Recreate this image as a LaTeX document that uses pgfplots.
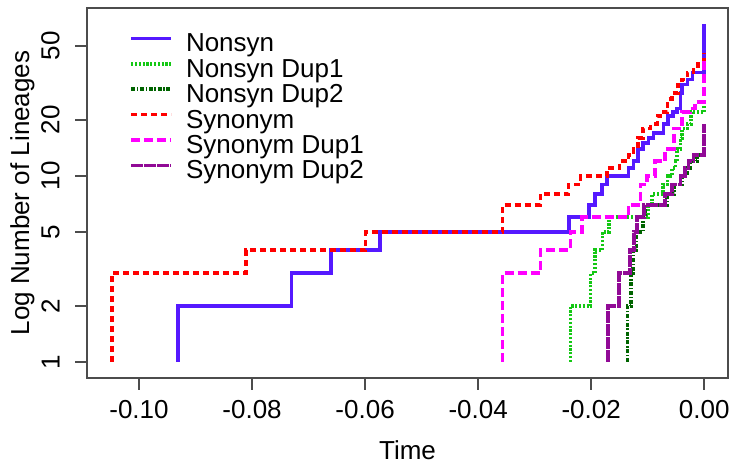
\documentclass[border=0pt]{standalone}
\usepackage{fontspec}
\setmainfont{Liberation Sans}
\usepackage{pgfplots}
\pgfplotsset{compat=1.18}
\definecolor{nsblue}{RGB}{85,25,255}
\definecolor{nsgreen}{RGB}{20,200,20}
\definecolor{nsdkgreen}{RGB}{0,100,0}
\definecolor{synred}{RGB}{255,0,0}
\definecolor{synmag}{RGB}{255,0,255}
\definecolor{synpurple}{RGB}{145,10,150}
\newcommand\chartfont{\fontsize{13bp}{15.6bp}\selectfont}

\begin{document}
\begin{tikzpicture}
\begin{axis}[
  scale only axis,
  width=320.5bp, height=185bp,
  xmin=-0.1092, xmax=0.0042,
  ymode=log, ymin=0.82, ymax=80,
  xtick={-0.10,-0.08,-0.06,-0.04,-0.02,0},
  xticklabels={-0.10,-0.08,-0.06,-0.04,-0.02,0.00},
  ytick={1,2,5,10,20,50},
  yticklabels={1,2,5,10,20,50},
  yminorticks=false,
  tick pos=left,
  tick align=outside,
  major tick length=6bp,
  tick style={black!70, line width=0.8bp},
  axis line style={black!70, line width=0.8bp},
  ticklabel style={font=\chartfont},
  xticklabel style={anchor=north, inner sep=0pt},
  xticklabel shift=5bp,
  yticklabel style={rotate=90, anchor=south, inner sep=0pt},
  yticklabel shift=7.5bp,
  xlabel={Time},
  ylabel={Log Number of Lineages},
  label style={font=\chartfont},
  xlabel style={at={([yshift=-31bp]axis description cs:0.5,0)}, anchor=north, inner sep=0pt},
  ylabel style={at={([xshift=-26bp]axis description cs:0,0.5)}, anchor=south, inner sep=0pt},
  legend style={draw=none, fill=none, at={(0,1)}, anchor=north west,
    xshift=21bp, yshift=-12.25bp, font=\chartfont, row sep=0pt, column sep=6.5bp,
    inner sep=0pt, nodes={inner sep=0pt, text height=9.5bp, text depth=3.2bp}},
  legend cell align=left,
  legend image code/.code={\draw[#1] (0bp,3.6bp) -- (20bp,3.6bp);},
  every axis plot/.append style={line width=1.8bp, line cap=butt},
]
% Nonsyn
\addplot[const plot, nsblue] coordinates {
  (-0.0931,1) (-0.0931,2) (-0.0730,3) (-0.0660,4) (-0.0574,5) (-0.0239,6)
  (-0.0204,7) (-0.0193,8) (-0.0181,9) (-0.0172,10) (-0.0134,11) (-0.0125,12)
  (-0.0117,14) (-0.0108,15) (-0.0099,16) (-0.0090,17) (-0.0072,19) (-0.0064,21)
  (-0.0055,22) (-0.0048,23) (-0.0042,28) (-0.0039,31) (-0.0030,33) (-0.0021,36)
  (0,36) (0,66)};
\addlegendentry{Nonsyn}
% Nonsyn Dup1
\addplot[const plot, nsgreen, dash pattern=on 1.1bp off 0.8bp] coordinates {
  (-0.0237,1) (-0.0237,2) (-0.0201,3) (-0.0193,4) (-0.0180,5) (-0.0169,6)
  (-0.0100,7) (-0.0092,8) (-0.0073,9) (-0.0065,10) (-0.0057,11) (-0.0051,12)
  (-0.0048,14) (-0.0042,16) (-0.0039,18) (-0.0030,19) (-0.0024,22) (0,22) (0,24)};
\addlegendentry{Nonsyn Dup1}
% Nonsyn Dup2
\addplot[const plot, nsdkgreen, dash pattern=on 2bp off 0.8bp on 0.8bp off 0.8bp] coordinates {
  (-0.0136,1) (-0.0136,2) (-0.0130,3) (-0.0126,4) (-0.0120,5) (-0.0108,6)
  (-0.0104,7) (-0.0066,8) (-0.0053,9) (-0.0039,10) (-0.0031,11) (-0.0025,12)
  (-0.0013,13) (0,13)};
\addlegendentry{Nonsyn Dup2}
% Synonym
\addplot[const plot, synred, dash pattern=on 3bp off 2bp] coordinates {
  (-0.1048,1) (-0.1048,3) (-0.0811,4) (-0.0599,5) (-0.0357,7) (-0.0290,8)
  (-0.0240,9) (-0.0219,10) (-0.0172,11) (-0.0150,12) (-0.0134,13) (-0.0125,14)
  (-0.0117,16) (-0.0108,18) (-0.0095,19) (-0.0083,21) (-0.0072,22) (-0.0065,26)
  (-0.0057,28) (-0.0046,31) (-0.0039,33) (-0.0030,36) (-0.0019,39) (-0.0011,41)
  (0,41) (0,46)};
\addlegendentry{Synonym}
% Synonym Dup1
\addplot[const plot, synmag, dash pattern=on 4.5bp off 2bp] coordinates {
  (-0.0357,1) (-0.0357,3) (-0.0290,4) (-0.0237,5) (-0.0216,6) (-0.0134,7)
  (-0.0113,9) (-0.0101,10) (-0.0087,12) (-0.0069,14) (-0.0054,18) (-0.0039,22)
  (-0.0025,23) (-0.0016,25) (0,25) (0,43)};
\addlegendentry{Synonym Dup1}
% Synonym Dup2
\addplot[const plot, synpurple, dash pattern=on 6bp off 0.5bp] coordinates {
  (-0.0170,1) (-0.0170,2) (-0.0151,3) (-0.0131,4) (-0.0124,5) (-0.0119,6)
  (-0.0107,7) (-0.0069,8) (-0.0057,9) (-0.0042,10) (-0.0034,11) (-0.0028,12)
  (-0.0019,13) (0,13) (0,19)};
\addlegendentry{Synonym Dup2}
\end{axis}
\path (current axis.south west) ++(-43.5bp,-46bp) rectangle ([xshift=5.5bp,yshift=4bp]current axis.north east);
\end{tikzpicture}
\end{document}
